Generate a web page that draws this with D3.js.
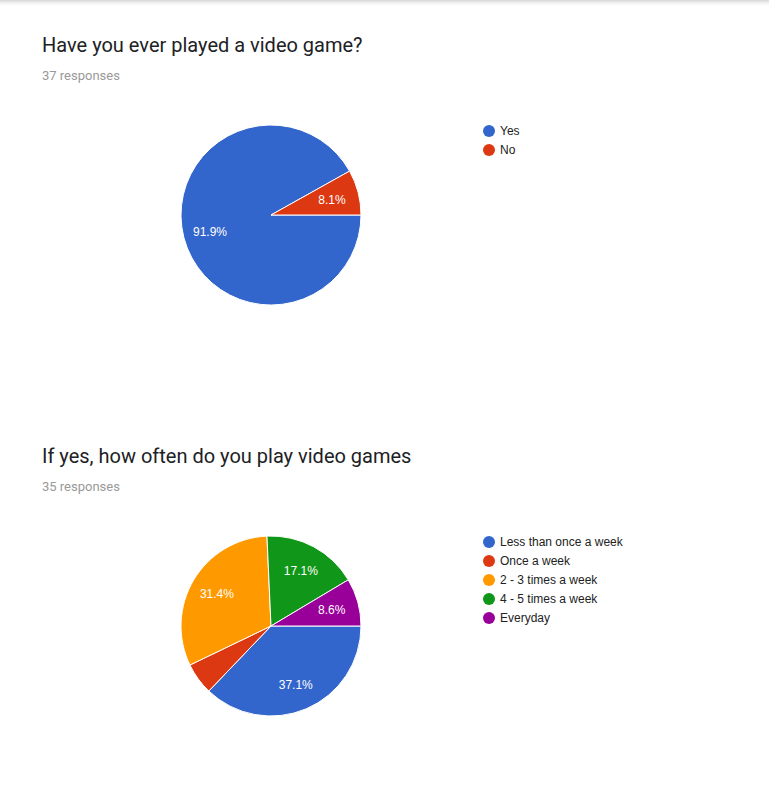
<!DOCTYPE html>
<html><head><meta charset="utf-8">
<script src="https://cdn.jsdelivr.net/npm/d3@7"></script>
<style>body{margin:0;background:#fff;overflow:hidden}</style>
</head><body>
<script>
const titles = ["Have you ever played a video game?", "If yes, how often do you play video games"];
const responses = ["37 responses", "35 responses"];
const categories1 = ["Yes", "No"];
const values1 = [34, 3];
const categories2 = ["Less than once a week", "Once a week", "2 - 3 times a week", "4 - 5 times a week", "Everyday"];
const values2 = [13, 2, 11, 6, 3];
const colors = ["#3366cc", "#dc3912", "#ff9900", "#109618", "#990099"];

const W = 769, H = 811;
const svg = d3.select("body").append("svg").attr("width", W).attr("height", H);
const defs = svg.append("defs");
const g = defs.append("linearGradient").attr("id","sh").attr("x1",0).attr("x2",0).attr("y1",0).attr("y2",1);
g.append("stop").attr("offset",0).attr("stop-color","#d4d4d4");
g.append("stop").attr("offset",1).attr("stop-color","#fff").attr("stop-opacity",0);
svg.append("rect").attr("x",0).attr("y",0).attr("width",W).attr("height",7).attr("fill","url(#sh)");

function drawChart(top, title, resp, cats, vals) {
  svg.append("text").attr("x", 42).attr("y", top + 52).text(title)
    .attr("font-family","Roboto").attr("font-size",20).attr("fill","#202124");
  svg.append("text").attr("x", 42).attr("y", top + 80).text(resp)
    .attr("font-family","Roboto").attr("font-size",13).attr("fill","#999");
  const cx = 271, cy = top + 215, r = 90;
  const total = d3.sum(vals);
  const pie = d3.pie().sort(null).startAngle(Math.PI/2).endAngle(Math.PI/2 + 2*Math.PI);
  const arcs = pie(vals);
  const arc = d3.arc().innerRadius(0).outerRadius(r);
  const labArc = d3.arc().innerRadius(63).outerRadius(63);
  const pg = svg.append("g").attr("transform", `translate(${cx},${cy})`);
  pg.selectAll("path").data(arcs).join("path")
    .attr("d", arc).attr("fill", (d,i)=>colors[i]).attr("stroke","#fff").attr("stroke-width",1);
  pg.selectAll("text").data(arcs.filter(d => d.value/total > 0.07)).join("text")
    .attr("transform", d => `translate(${labArc.centroid(d)})`)
    .attr("text-anchor","middle").attr("dy","0.4em")
    .attr("font-family","Liberation Sans, Arial").attr("font-size",12).attr("fill","#fff")
    .text(d => (d.value/total*100).toFixed(1) + "%");
  const lg = svg.append("g").attr("transform", `translate(489,${top+131})`);
  cats.forEach((c,i) => {
    lg.append("circle").attr("cx",0).attr("cy",i*19).attr("r",6).attr("fill",colors[i]);
    lg.append("text").attr("x",11).attr("y",i*19).attr("dy","0.36em").text(c)
      .attr("font-family","Liberation Sans, Arial").attr("font-size",12).attr("fill","#222");
  });
}
drawChart(0, titles[0], responses[0], categories1, values1);
drawChart(411, titles[1], responses[1], categories2, values2);
</script>
</body></html>
